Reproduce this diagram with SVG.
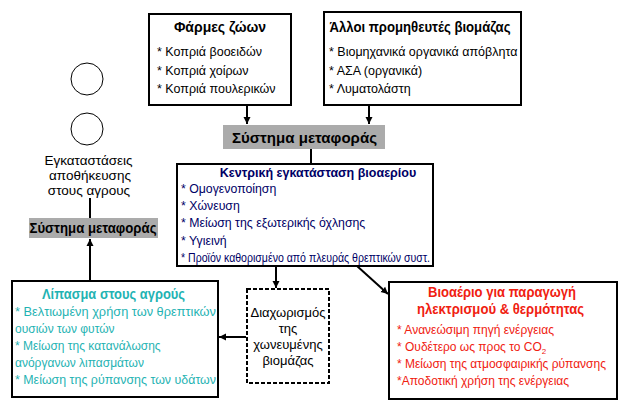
<svg xmlns="http://www.w3.org/2000/svg" width="635" height="411" viewBox="0 0 635 411">
<defs>
<marker id="ah" markerWidth="8" markerHeight="8" refX="7" refY="4" orient="auto" markerUnits="userSpaceOnUse">
<path d="M0,0.5 L7,4 L0,7.5 Z" fill="#000"/>
</marker>
<style>
text{font-family:"Liberation Sans",Arial,sans-serif;font-size:12px;fill:#000}
.b{font-weight:bold}
.t14{font-size:14px}
.t13{font-size:13px}
.t125{font-size:12.5px}
.box{fill:#fff;stroke:#000;stroke-width:2}
.gray{fill:#ABABAB;stroke:none}
.navy{fill:#000066}
.teal{fill:#1FB3B3}
.red{fill:#F02010}
.c{text-anchor:middle}
.ln{stroke:#000;stroke-width:2;fill:none}
</style>
</defs>
<rect width="635" height="411" fill="#fff"/>

<g id="connectors">
<line class="ln" x1="247" y1="106" x2="247" y2="124" marker-end="url(#ah)"/>
<line class="ln" x1="369" y1="106" x2="369" y2="124" marker-end="url(#ah)"/>
<line class="ln" x1="311" y1="149" x2="311" y2="164"/>
<line class="ln" x1="276" y1="266" x2="276" y2="288" marker-end="url(#ah)"/>
<line class="ln" x1="357" y1="266" x2="388" y2="294" marker-end="url(#ah)"/>
<line class="ln" x1="246" y1="337" x2="219" y2="337" marker-end="url(#ah)"/>
<line class="ln" x1="90" y1="281" x2="90" y2="239" marker-end="url(#ah)"/>
<line class="ln" x1="90" y1="198" x2="90" y2="218"/>
</g>

<g id="farms">
<rect class="box" x="149" y="14" width="142" height="91"/>
<text class="b c t14" x="220" y="32">Φάρμες ζώων</text>
<text class="t125" x="157" y="56">* Κοπριά βοοειδών</text>
<text class="t125" x="157" y="75">* Κοπριά χοίρων</text>
<text class="t125" x="157" y="93">* Κοπριά πουλερικών</text>
</g>

<g id="suppliers">
<rect class="box" x="324" y="12" width="197" height="93"/>
<text class="b c" x="420" y="32" style="font-size:14px" textLength="181" lengthAdjust="spacingAndGlyphs">Άλλοι προμηθευτές βιομάζας</text>
<text class="t125" x="329" y="56">* Βιομηχανικά οργανικά απόβλητα</text>
<text class="t125" x="329" y="75">* ΑΣΑ (οργανικά)</text>
<text class="t125" x="329" y="93">* Λυματολάστη</text>
</g>

<g id="transport-top">
<rect class="gray" x="223" y="125" width="162" height="24"/>
<text class="b c" x="304.5" y="143" style="font-size:15px" textLength="145" lengthAdjust="spacingAndGlyphs">Σύστημα μεταφοράς</text>
</g>

<g id="central">
<rect class="box" x="177" y="164" width="256" height="102"/>
<text class="b c navy t125" x="318" y="177">Κεντρική εγκατάσταση βιοαερίου</text>
<text class="navy" x="181" y="193" style="font-size:12.3px">* Ομογενοποίηση</text>
<text class="navy" x="181" y="210" style="font-size:12.3px">* Χώνευση</text>
<text class="navy" x="181" y="227" style="font-size:12.3px">* Μείωση της εξωτερικής όχλησης</text>
<text class="navy" x="181" y="245" style="font-size:12.3px">* Υγιεινή</text>
<text class="navy" x="181" y="262" textLength="249" lengthAdjust="spacingAndGlyphs">* Προϊόν καθορισμένο από πλευράς θρεπτικών συστ.</text>
</g>

<g id="storage">
<circle cx="87" cy="79" r="16" fill="#fff" stroke="#000" stroke-width="1"/>
<circle cx="87" cy="129" r="16" fill="#fff" stroke="#000" stroke-width="1"/>
<text class="c" x="88.5" y="165" style="font-size:13.5px">Εγκαταστάσεις</text>
<text class="c" x="90" y="180" style="font-size:13.5px">αποθήκευσης</text>
<text class="c" x="89" y="195" style="font-size:13.5px">στους αγρους</text>
</g>

<g id="transport-left">
<rect class="gray" x="29" y="218" width="129" height="20"/>
<text class="b c" x="93" y="233" style="font-size:14px" textLength="127" lengthAdjust="spacingAndGlyphs">Σύστημα μεταφοράς</text>
</g>

<g id="fertilizer">
<rect class="box" x="12" y="281" width="206" height="116"/>
<text class="b c teal" x="113.5" y="299" style="font-size:14px" textLength="143" lengthAdjust="spacingAndGlyphs">Λίπασμα στους αγρούς</text>
<text class="teal" x="15" y="316" textLength="201" lengthAdjust="spacingAndGlyphs">* Βελτιωμένη χρήση των θρεπτικών</text>
<text class="teal" x="15" y="333">ουσιών των φυτών</text>
<text class="teal" x="15" y="350">* Μείωση της κατανάλωσης</text>
<text class="teal" x="15" y="367">ανόργανων λιπασμάτων</text>
<text class="teal" x="15" y="384" textLength="201" lengthAdjust="spacingAndGlyphs">* Μείωση της ρύπανσης των υδάτων</text>
</g>

<g id="separation">
<rect x="247" y="289" width="82" height="94" fill="#fff" stroke="#000" stroke-width="2" stroke-dasharray="4,2"/>
<text class="c t13" x="288" y="317">Διαχωρισμός</text>
<text class="c t13" x="288" y="333">της</text>
<text class="c t13" x="288" y="349">χωνευμένης</text>
<text class="c t13" x="288" y="365">βιομάζας</text>
</g>

<g id="biogas">
<rect class="box" x="389" y="282" width="228" height="117"/>
<text class="b c red" x="502" y="297" style="font-size:14px" textLength="148" lengthAdjust="spacingAndGlyphs">Βιοαέριο για παραγωγή</text>
<text class="b c red" x="500.5" y="314" style="font-size:14px" textLength="167" lengthAdjust="spacingAndGlyphs">ηλεκτρισμού &amp; θερμότητας</text>
<text class="red" x="397" y="334">* Ανανεώσιμη πηγή ενέργειας</text>
<text class="red" x="397" y="351">* Ουδέτερο ως προς το CO<tspan font-size="8" dy="3">2</tspan></text>
<text class="red" x="397" y="368">* Μείωση της ατμοσφαιρικής ρύπανσης</text>
<text class="red" x="397" y="385">*Αποδοτική χρήση της ενέργειας</text>
</g>
</svg>
